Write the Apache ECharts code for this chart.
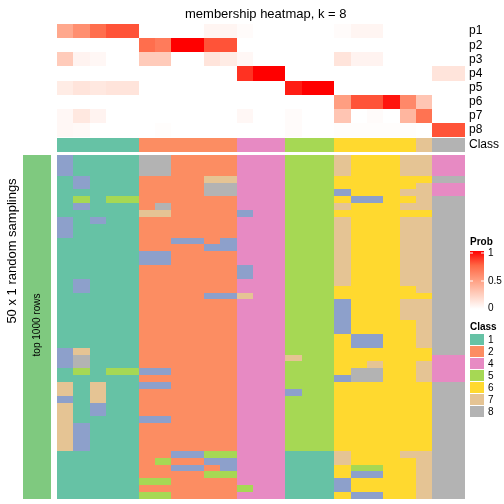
<!DOCTYPE html>
<html>
<head>
<meta charset="utf-8">
<script src="https://cdn.jsdelivr.net/npm/echarts@6/dist/echarts.min.js"></script>
<style>html,body{margin:0;padding:0;background:#fff}#c{width:504px;height:504px}</style>
</head>
<body>
<div id="c"></div>
<script>
// ---- data ----
const colCount = 25;
const probLabels = ['p1','p2','p3','p4','p5','p6','p7','p8'];
const p1 = [0.45,0.57,0.72,0.8,0.8, 0,0,0,0,0.05,0.05, 0.02,0,0, 0,0,0, 0.02,0.05,0.05,0,0, 0, 0,0];
const p2 = [0,0,0,0,0, 0.72,0.66,1,1,0.8,0.8, 0,0,0, 0,0,0, 0,0,0,0,0, 0, 0,0];
const p3 = [0.27,0.06,0.04,0,0, 0.27,0.27,0,0,0.14,0.1, 0.04,0,0, 0,0,0, 0.14,0.06,0.06,0,0, 0, 0,0];
const p4 = [0,0,0,0,0, 0,0,0,0,0,0, 0.88,1,1, 0,0,0, 0,0,0,0,0, 0, 0.14,0.14];
const p5 = [0.1,0.14,0.12,0.14,0.14, 0,0,0,0,0,0, 0,0,0, 0.93,1,1, 0,0,0,0,0, 0, 0,0];
const p6 = [0,0,0,0,0, 0,0,0,0,0,0, 0,0,0, 0,0,0, 0.5,0.8,0.8,0.95,0.6, 0.3, 0,0];
const p7 = [0.04,0.12,0.06,0,0, 0,0,0,0,0,0, 0.04,0,0, 0.02,0,0, 0.3,0,0.02,0,0.38,0.7, 0,0];
const p8 = [0.04,0.03,0,0,0, 0,0.01,0,0,0,0, 0,0,0, 0.02,0,0, 0.01,0.01,0.01,0.01,0.01,0, 0.8,0.8];
const probRows = [p1,p2,p3,p4,p5,p6,p7,p8];
const classes = [1,1,1,1,1,2,2,2,2,2,2,4,4,4,5,5,5,6,6,6,6,6,7,8,8];
const classIds = [1,2,3,4,5,6,7,8];
const legendIds = [1,2,4,5,6,7,8];
const classColors = ['#66C2A5','#FC8D62','#8DA0CB','#E78AC3','#A6D854','#FFD92F','#E5C494','#B3B3B3'];
// 50 random samplings (rows) x 25 samples (columns), class per cell
const mainRows = [
 "31111 882222 444 555 76667 7 44",
 "31111 882222 444 555 76667 7 44",
 "31111 882222 444 555 76667 7 44",
 "13111 222277 444 555 66666 6 88",
 "13111 222288 444 555 66666 7 44",
 "11111 222288 444 555 36667 7 44",
 "15155 222222 444 555 63366 7 88",
 "13111 282222 444 555 76667 7 88",
 "11111 772222 344 555 66666 6 88",
 "31311 222222 444 555 76667 7 88",
 "31111 222222 444 555 76667 7 88",
 "31111 222222 444 555 76667 7 88",
 "11111 223323 444 555 76667 7 88",
 "11111 222233 444 555 76667 7 88",
 "11111 332222 444 555 76667 7 88",
 "11111 332222 444 555 76667 7 88",
 "11111 222222 344 555 76667 7 88",
 "11111 222222 344 555 76667 7 88",
 "13111 222222 444 555 76667 7 88",
 "13111 222222 444 555 66666 7 88",
 "11111 222233 744 555 66666 6 88",
 "11111 222222 444 555 36667 7 88",
 "11111 222222 444 555 36667 7 88",
 "11111 222222 444 555 36667 7 88",
 "11111 222222 444 555 36666 7 88",
 "11111 222222 444 555 36666 7 88",
 "11111 222222 444 555 63366 7 88",
 "11111 222222 444 555 63366 7 88",
 "37111 222222 444 555 66666 6 88",
 "38111 222222 444 755 66666 6 44",
 "38111 222222 444 555 66766 7 44",
 "15155 332222 444 555 68866 7 44",
 "11111 222222 444 555 38866 7 44",
 "71711 332222 444 555 66666 6 88",
 "71711 222222 444 355 66666 6 88",
 "31711 222222 444 555 66666 6 88",
 "71311 222222 444 555 66666 6 88",
 "71311 222222 444 555 66666 6 88",
 "71111 332222 444 555 66666 6 88",
 "73111 222222 444 555 66666 6 88",
 "73111 222222 444 555 66666 6 88",
 "73111 222222 444 555 66666 6 88",
 "73111 222222 444 555 66666 6 88",
 "11111 223355 444 111 76667 7 88",
 "11111 252233 444 111 76666 7 88",
 "11111 223323 444 111 65566 7 88",
 "11111 222255 444 111 63366 7 88",
 "11111 552222 444 111 36666 7 88",
 "11111 222222 544 111 36666 7 88",
 "11111 552222 444 111 63366 7 88"
];
const titleText = 'membership heatmap, k = 8';
const rowTitle = '50 x 1 random samplings';
const annoText = 'top 1000 rows';
const probTicks = ['1','0.5','0'];

// ---- build ----
const cols = Array.from({length: colCount}, (_, i) => 'c' + (i + 1));
const rowIdx = mainRows.map((_, i) => 'r' + (i + 1));
const probData = [];
probRows.forEach((arr, r) => arr.forEach((v, c) => probData.push([c, r, v])));
const classData = classes.map((v, c) => [c, 0, v]);
const mainData = [];
mainRows.forEach((s, r) => {
  s.replace(/\s+/g, '').split('').forEach((ch, c) => mainData.push([c, r, +ch]));
});

const FONT = 'Liberation Sans';
const L = 57, W = 408;
function xAx(i){ return {type:'category', gridIndex:i, data:cols, show:false}; }

// cell renderer: uses the axes' scales, snaps edges to whole pixels so no seams
function cell(params, api) {
  const p = api.coord([api.value(0), api.value(1)]);
  const s = api.size([1, 1]);
  const x0 = Math.round(p[0] - s[0] / 2), x1 = Math.round(p[0] + s[0] / 2);
  const y0 = Math.round(p[1] - s[1] / 2), y1 = Math.round(p[1] + s[1] / 2);
  return {type:'rect', shape:{x:x0, y:y0, width:x1 - x0, height:y1 - y0},
          style:{fill: api.visual('color')}, silent:true};
}
function heat(i, data) {
  return {type:'custom', xAxisIndex:i, yAxisIndex:i, data:data, renderItem:cell,
          encode:{x:0, y:1}, emphasis:{disabled:true}};
}

const graphic = [];
// left annotation bar
graphic.push({type:'rect', shape:{x:23, y:155, width:28, height:344}, style:{fill:'#7FC97F'}, silent:true});
graphic.push({type:'text', x:37, y:325, rotation:Math.PI/2, style:{text:annoText, font:'10px ' + FONT, fill:'#000', textAlign:'center', textVerticalAlign:'middle'}});
graphic.push({type:'text', x:12, y:251, rotation:Math.PI/2, style:{text:rowTitle, font:'13px ' + FONT, fill:'#000', textAlign:'center', textVerticalAlign:'middle'}});
// Prob legend
graphic.push({type:'text', x:470, y:242, style:{text:'Prob', font:'bold 10px ' + FONT, fill:'#000', textVerticalAlign:'middle'}});
graphic.push({type:'rect', shape:{x:470, y:251, width:14, height:58}, style:{fill:new echarts.graphic.LinearGradient(0,0,0,1,[
  {offset:0, color:'#FF0000'},{offset:0.25, color:'#FF6846'},{offset:0.5, color:'#FF9E81'},{offset:0.75, color:'#FFCFBF'},{offset:1, color:'#FFFFFF'}])}, silent:true});
[253, 281].forEach(y => {
  graphic.push({type:'line', shape:{x1:470, y1:y, x2:473, y2:y}, style:{stroke:'#fff', lineWidth:1}});
  graphic.push({type:'line', shape:{x1:481, y1:y, x2:484, y2:y}, style:{stroke:'#fff', lineWidth:1}});
});
[253, 281, 308].forEach((y, i) => {
  graphic.push({type:'text', x:488, y:y, style:{text:probTicks[i], font:'10px ' + FONT, fill:'#000', textVerticalAlign:'middle'}});
});
// Class legend
graphic.push({type:'text', x:470, y:327, style:{text:'Class', font:'bold 10px ' + FONT, fill:'#000', textVerticalAlign:'middle'}});
legendIds.forEach((id, i) => {
  const y = 334 + 12 * i;
  graphic.push({type:'rect', shape:{x:470, y:y, width:14, height:11}, style:{fill:classColors[id - 1]}, silent:true});
  graphic.push({type:'text', x:488, y:y + 6, style:{text:String(id), font:'10px ' + FONT, fill:'#000', textVerticalAlign:'middle'}});
});

const option = {
  animation: false,
  backgroundColor: '#fff',
  textStyle: {fontFamily: FONT},
  title: {text: titleText, left: 180, top: 3, textStyle:{fontSize:13, fontWeight:'normal', color:'#000', fontFamily: FONT}},
  grid: [
    {left:L, top:24, width:W, height:113},
    {left:L, top:138, width:W, height:14},
    {left:L, top:155, width:W, height:344}
  ],
  xAxis: [xAx(0), xAx(1), xAx(2)],
  yAxis: [
    {type:'category', gridIndex:0, data:probLabels, inverse:true, position:'right',
     axisLine:{show:false}, axisTick:{show:false}, splitLine:{show:false},
     axisLabel:{color:'#000', fontSize:12, margin:4, interval:0, fontFamily:FONT}},
    {type:'category', gridIndex:1, data:['Class'], position:'right',
     axisLine:{show:false}, axisTick:{show:false},
     axisLabel:{color:'#000', fontSize:12, margin:4, interval:0, fontFamily:FONT}},
    {type:'category', gridIndex:2, data:rowIdx, inverse:true, show:false}
  ],
  visualMap: [
    {type:'continuous', seriesIndex:0, dimension:2, min:0, max:1, show:false,
     inRange:{color:['#FFFFFF','#FFCFBF','#FF9E81','#FF6846','#FF0000']}},
    {type:'piecewise', seriesIndex:[1,2], dimension:2, show:false,
     pieces: classIds.map((c, i) => ({value:c, color:classColors[i]}))}
  ],
  series: [heat(0, probData), heat(1, classData), heat(2, mainData)],
  graphic: graphic
};
const chart = echarts.init(document.getElementById('c'), null, {renderer:'canvas'});
chart.setOption(option);
</script>
</body>
</html>
